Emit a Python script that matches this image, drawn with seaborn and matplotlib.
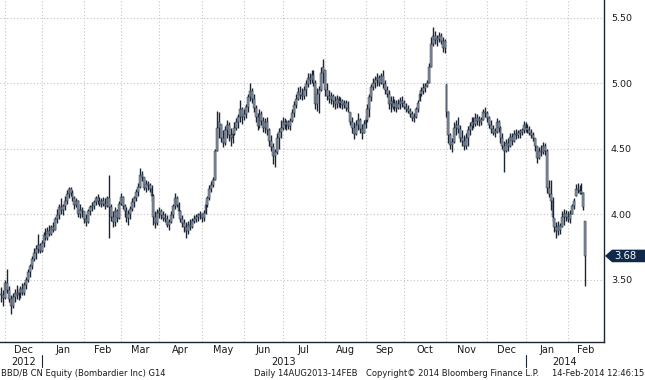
import pandas as pd
import numpy as np
import matplotlib
matplotlib.use("Agg")
import matplotlib.pyplot as plt
import matplotlib.transforms as mtransforms
from matplotlib.lines import Line2D
from matplotlib.patches import Polygon
import seaborn as sns

sns.set_style("white")
plt.rcParams['font.family'] = ['DejaVu Sans']

# TSX trading days, Nov 29 2012 - Feb 14 2014
holidays = ['2012-12-25', '2012-12-26', '2013-01-01', '2013-02-18', '2013-03-29',
            '2013-05-20', '2013-07-01', '2013-08-05', '2013-09-02', '2013-10-14',
            '2013-12-25', '2013-12-26', '2014-01-01']
dates = pd.bdate_range('2012-11-29', '2014-02-14', freq='C', holidays=holidays)

lows = [
    3.33, 3.30,
    3.35, 3.40, 3.33, 3.24, 3.28, 3.33, 3.35, 3.34, 3.36, 3.38, 3.38, 3.43, 3.48, 3.52, 3.58, 3.64, 3.66, 3.70, 3.70,
    3.71, 3.75, 3.80, 3.80, 3.83, 3.84, 3.86, 3.88, 3.93, 3.96, 4.00, 3.99, 4.03, 4.08, 4.12, 4.14, 4.10, 4.04, 4.05, 3.98, 3.97, 3.98,
    3.93, 3.91, 3.93, 3.99, 4.02, 4.04, 4.07, 4.08, 4.06, 4.05, 4.06, 4.04, 4.05, 3.82, 3.95, 3.90, 3.91, 3.94, 3.96,
    4.07, 4.04, 3.98, 3.94, 3.92, 3.96, 4.02, 4.05, 4.10, 4.14, 4.20, 4.25, 4.18, 4.17, 4.18, 4.17, 4.10, 3.92, 3.89, 3.92,
    3.97, 3.96, 3.95, 3.94, 3.90, 3.88, 3.93, 3.97, 4.04, 4.05, 3.99, 3.94, 3.90, 3.86, 3.82, 3.85, 3.88, 3.89, 3.93, 3.94, 3.95, 3.96,
    3.94, 3.95, 4.00, 4.05, 4.11, 4.17, 4.21, 4.26, 4.48, 4.58, 4.55, 4.51, 4.53, 4.58, 4.56, 4.52, 4.54, 4.60, 4.64, 4.66, 4.70, 4.69,
    4.72, 4.73, 4.78, 4.86, 4.85, 4.78, 4.70, 4.64, 4.66, 4.68, 4.63, 4.62, 4.60, 4.52, 4.48, 4.38, 4.36, 4.46, 4.50, 4.58,
    4.64, 4.65, 4.64, 4.65, 4.64, 4.70, 4.74, 4.81, 4.87, 4.88, 4.87, 4.88, 4.90, 4.97, 4.99, 5.00, 4.98, 4.80, 4.79, 4.77, 4.94, 5.00,
    4.90, 4.87, 4.85, 4.84, 4.82, 4.80, 4.81, 4.82, 4.81, 4.80, 4.81, 4.79, 4.78, 4.68, 4.62, 4.57, 4.60, 4.64, 4.62, 4.57, 4.62,
    4.66, 4.70, 4.74, 4.86, 4.95, 4.96, 4.98, 4.98, 4.99, 4.96, 4.92, 4.89, 4.80, 4.78, 4.80, 4.79, 4.78, 4.80, 4.80, 4.82,
    4.80, 4.78, 4.77, 4.74, 4.71, 4.70, 4.73, 4.78, 4.86, 4.90, 4.92, 4.93, 4.97, 5.00, 5.12, 5.28, 5.30, 5.28, 5.31, 5.30, 5.24, 5.23,
    4.74, 4.54, 4.50, 4.47, 4.54, 4.60, 4.62, 4.55, 4.52, 4.49, 4.50, 4.52, 4.60, 4.64, 4.66, 4.67, 4.68, 4.67, 4.68, 4.72, 4.74,
    4.70, 4.66, 4.62, 4.60, 4.59, 4.62, 4.63, 4.54, 4.50, 4.32, 4.47, 4.48, 4.51, 4.53, 4.55, 4.57, 4.58, 4.58, 4.60, 4.62,
    4.63, 4.62, 4.60, 4.58, 4.56, 4.48, 4.39, 4.42, 4.44, 4.46, 4.45, 4.16, 4.13, 4.03, 3.95, 3.86, 3.82, 3.84, 3.85, 3.90, 3.92, 3.95,
    3.94, 3.93, 4.00, 4.04, 4.14, 4.16, 4.15, 4.15, 4.03, 3.45,
]
highs = [
    3.44, 3.42,
    3.50, 3.58, 3.45, 3.38, 3.40, 3.43, 3.46, 3.42, 3.45, 3.47, 3.48, 3.52, 3.58, 3.62, 3.68, 3.74, 3.76, 3.85, 3.78,
    3.80, 3.86, 3.89, 3.90, 3.92, 3.92, 3.94, 3.98, 4.04, 4.08, 4.12, 4.08, 4.14, 4.18, 4.21, 4.21, 4.18, 4.14, 4.12, 4.11, 4.08, 4.05,
    4.02, 4.00, 4.04, 4.07, 4.09, 4.11, 4.14, 4.15, 4.13, 4.12, 4.13, 4.12, 4.14, 4.30, 4.08, 4.02, 4.05, 4.04, 4.10,
    4.16, 4.14, 4.08, 4.05, 4.03, 4.06, 4.12, 4.14, 4.19, 4.24, 4.35, 4.33, 4.28, 4.26, 4.25, 4.24, 4.22, 4.15, 4.02, 4.04,
    4.05, 4.04, 4.02, 4.01, 3.99, 3.96, 4.02, 4.08, 4.16, 4.14, 4.09, 4.03, 3.99, 3.96, 3.94, 3.95, 3.96, 3.97, 3.99, 4.00, 4.01, 4.02,
    4.01, 4.03, 4.10, 4.14, 4.22, 4.25, 4.28, 4.50, 4.79, 4.78, 4.69, 4.64, 4.67, 4.72, 4.70, 4.66, 4.64, 4.70, 4.73, 4.76, 4.87, 4.82,
    4.80, 4.84, 4.92, 5.00, 4.96, 4.92, 4.83, 4.77, 4.80, 4.79, 4.74, 4.73, 4.74, 4.66, 4.60, 4.54, 4.50, 4.62, 4.66, 4.72,
    4.74, 4.73, 4.72, 4.72, 4.73, 4.80, 4.86, 4.92, 4.97, 4.98, 4.96, 4.98, 5.02, 5.08, 5.08, 5.10, 5.10, 5.02, 4.96, 4.98, 5.12, 5.18,
    5.10, 5.00, 4.95, 4.93, 4.92, 4.90, 4.91, 4.90, 4.89, 4.88, 4.87, 4.87, 4.86, 4.78, 4.74, 4.70, 4.72, 4.77, 4.73, 4.69, 4.72,
    4.75, 4.84, 4.92, 4.99, 5.04, 5.05, 5.08, 5.06, 5.08, 5.10, 5.02, 4.98, 4.95, 4.90, 4.90, 4.88, 4.87, 4.88, 4.89, 4.90,
    4.87, 4.85, 4.83, 4.81, 4.79, 4.77, 4.82, 4.87, 4.95, 4.97, 5.00, 5.00, 5.02, 5.15, 5.35, 5.43, 5.40, 5.37, 5.39, 5.38, 5.35, 5.34,
    4.99, 4.79, 4.62, 4.58, 4.70, 4.72, 4.74, 4.68, 4.64, 4.60, 4.62, 4.67, 4.70, 4.74, 4.74, 4.77, 4.76, 4.75, 4.74, 4.80, 4.82,
    4.79, 4.75, 4.72, 4.68, 4.66, 4.73, 4.72, 4.67, 4.62, 4.56, 4.57, 4.58, 4.62, 4.62, 4.64, 4.65, 4.64, 4.65, 4.66, 4.71,
    4.70, 4.69, 4.67, 4.65, 4.63, 4.58, 4.52, 4.51, 4.53, 4.55, 4.54, 4.50, 4.26, 4.26, 4.13, 3.97, 3.94, 3.95, 3.93, 4.02, 4.04, 4.03,
    4.02, 4.03, 4.08, 4.12, 4.23, 4.24, 4.22, 4.24, 4.17, 3.95,
]
closes = [
    3.38, 3.36,
    3.47, 3.42, 3.35, 3.30, 3.37, 3.40, 3.38, 3.40, 3.43, 3.40, 3.46, 3.50, 3.56, 3.60, 3.66, 3.70, 3.73, 3.76, 3.72,
    3.78, 3.84, 3.82, 3.87, 3.85, 3.90, 3.88, 3.96, 3.99, 4.05, 4.03, 4.06, 4.10, 4.15, 4.19, 4.16, 4.12, 4.07, 4.10, 4.00, 4.03, 4.02,
    3.96, 3.94, 4.02, 4.05, 4.06, 4.09, 4.12, 4.10, 4.08, 4.10, 4.08, 4.06, 4.12, 4.05, 3.98, 3.94, 4.02, 3.97, 4.08,
    4.13, 4.06, 4.02, 3.97, 4.00, 4.04, 4.09, 4.12, 4.17, 4.21, 4.30, 4.28, 4.20, 4.23, 4.22, 4.19, 4.14, 3.98, 3.93, 4.01,
    4.02, 3.99, 3.97, 3.96, 3.92, 3.94, 3.99, 4.06, 4.12, 4.07, 4.02, 3.96, 3.93, 3.90, 3.87, 3.92, 3.90, 3.95, 3.96, 3.98, 3.99, 4.00,
    3.97, 4.01, 4.07, 4.12, 4.19, 4.22, 4.26, 4.48, 4.66, 4.70, 4.58, 4.54, 4.64, 4.68, 4.60, 4.58, 4.61, 4.66, 4.70, 4.74, 4.80, 4.74,
    4.76, 4.82, 4.89, 4.94, 4.88, 4.81, 4.74, 4.67, 4.76, 4.71, 4.66, 4.70, 4.64, 4.56, 4.51, 4.44, 4.47, 4.58, 4.63, 4.66,
    4.70, 4.68, 4.70, 4.67, 4.71, 4.77, 4.83, 4.88, 4.93, 4.91, 4.90, 4.95, 4.99, 5.04, 5.02, 5.06, 5.00, 4.84, 4.92, 4.95, 5.08, 5.12,
    4.95, 4.90, 4.88, 4.90, 4.86, 4.84, 4.88, 4.85, 4.86, 4.83, 4.85, 4.81, 4.80, 4.70, 4.66, 4.61, 4.68, 4.72, 4.65, 4.62, 4.69,
    4.72, 4.80, 4.89, 4.97, 5.00, 5.02, 5.04, 5.00, 5.05, 4.99, 4.95, 4.92, 4.84, 4.86, 4.82, 4.85, 4.81, 4.84, 4.86, 4.85,
    4.82, 4.80, 4.79, 4.76, 4.73, 4.74, 4.80, 4.85, 4.92, 4.94, 4.96, 4.98, 5.00, 5.12, 5.30, 5.36, 5.33, 5.34, 5.36, 5.32, 5.27, 5.32,
    4.78, 4.60, 4.53, 4.55, 4.66, 4.68, 4.65, 4.58, 4.56, 4.52, 4.58, 4.64, 4.67, 4.70, 4.69, 4.73, 4.71, 4.72, 4.70, 4.78, 4.77,
    4.73, 4.68, 4.65, 4.62, 4.63, 4.70, 4.66, 4.58, 4.52, 4.48, 4.54, 4.52, 4.59, 4.56, 4.61, 4.60, 4.62, 4.63, 4.64, 4.68,
    4.66, 4.64, 4.62, 4.60, 4.58, 4.52, 4.43, 4.48, 4.47, 4.52, 4.48, 4.20, 4.15, 4.10, 3.98, 3.90, 3.87, 3.91, 3.88, 3.98, 4.00, 3.98,
    3.96, 4.00, 4.06, 4.10, 4.19, 4.18, 4.17, 4.16, 4.05, 3.68,
]

footer_left = "BBD/B CN Equity (Bombardier Inc) G14"
footer_mid = "Daily 14AUG2013-14FEB"
footer_copy = "Copyright\u00a9 2014 Bloomberg Finance L.P."
footer_time = "14-Feb-2014 12:46:15"
last_label = "3.68"

df = pd.DataFrame({'date': dates, 'low': lows, 'high': highs, 'close': closes})
df['open'] = df['close'].shift(1).fillna(df['close'])
body_lo = np.clip(np.minimum(df['open'], df['close']), df['low'], df['high'])
body_hi = np.clip(np.maximum(df['open'], df['close']), df['low'], df['high'])
body_h = np.maximum(body_hi - body_lo, 0.012)

dark = '#1b2533'
grey = '#8996a8'
grid_c = '#c4c4c4'
txt = '#1a1a1a'

fig = plt.figure(figsize=(6.45, 3.80), dpi=100)
ax = fig.add_axes([0, 0.1, 604 / 645, 0.9])

ax.vlines(df.index, df['low'], df['high'], color=dark, linewidth=1.0, zorder=3)
ax.bar(df.index, body_h, bottom=body_lo, width=1.0, color=grey,
       edgecolor=dark, linewidth=0.3, zorder=4)

ax.set_xlim(-0.6, 312.7)
ax.set_ylim(3.023, 5.634)

# month boundaries and labels
month_key = df['date'].dt.to_period('M')
firsts = df.groupby(month_key).apply(lambda g: g.index.min())
firsts = firsts[firsts > 0]
bounds = list(firsts.values)
edges = bounds + [ax.get_xlim()[1]]
centers = [(edges[k] + edges[k + 1]) / 2 for k in range(len(bounds))]
names = [p.strftime('%b') for p in firsts.index]

ax.set_xticks(bounds)
ax.set_xticklabels([])
ax.set_xticks(centers, minor=True)
ax.set_xticklabels(names, minor=True)
ax.tick_params(axis='x', which='major', length=3, width=0.8, color=dark, direction='out')
ax.tick_params(axis='x', which='minor', length=0, pad=2, labelsize=7, labelcolor=txt)

ax.yaxis.tick_right()
ax.set_yticks([3.5, 4.0, 4.5, 5.0, 5.5])
ax.set_yticklabels([f'{v:.2f}' for v in [3.5, 4.0, 4.5, 5.0, 5.5]])
ax.set_yticks([3.25, 3.75, 4.25, 4.75, 5.25], minor=True)
ax.tick_params(axis='y', which='major', length=4, width=0.8, color=dark, pad=1,
               labelsize=6.8, labelcolor=txt)
ax.tick_params(axis='y', which='minor', length=2, width=0.8, color=dark)

for v in [3.5, 4.0, 4.5, 5.0, 5.5]:
    ax.axhline(v, color=grid_c, linewidth=0.8, linestyle=(0, (1, 2)), zorder=1)
for b in bounds:
    ax.axvline(b, color=grid_c, linewidth=0.8, linestyle=(0, (1, 2)), zorder=1)

sns.despine(ax=ax, left=True, top=True, right=False, bottom=False)
ax.spines['right'].set_color(dark)
ax.spines['bottom'].set_color(dark)
ax.spines['right'].set_linewidth(1.0)
ax.spines['bottom'].set_linewidth(1.0)

# year row
xfig = mtransforms.blended_transform_factory(ax.transData, fig.transFigure)
years = df['date'].dt.year
year_first = [int(df.index[years == y].min()) for y in sorted(years.unique())]
year_edges = [bounds[0]] + year_first[1:] + [ax.get_xlim()[1]]
for k, y in enumerate(sorted(years.unique())):
    ax.text((year_edges[k] + year_edges[k + 1]) / 2, 1 - 362 / 380, str(y), transform=xfig,
            ha='center', va='center', fontsize=7, color=txt)
for x0 in year_first[1:]:
    fig.add_artist(Line2D([x0, x0], [1 - 367 / 380, 1 - 355 / 380], transform=xfig,
                          color=dark, linewidth=0.8))

# last price tag on the right axis
last = df['close'].iloc[-1]
tag_tf = mtransforms.blended_transform_factory(fig.transFigure, ax.transData)
h = 0.048
tag = Polygon([(605 / 645, last), (612 / 645, last + h), (1.0, last + h),
               (1.0, last - h), (612 / 645, last - h)], closed=True,
              transform=tag_tf, facecolor='#10294a', edgecolor='none', clip_on=False)
fig.add_artist(tag)
fig.text(614 / 645, last, last_label, transform=tag_tf, ha='left', va='center',
         fontsize=7.2, color='white')

# footer
fy = 1 - 373 / 380
fs = 6.0
fig.text(1 / 645, fy, footer_left, ha='left', va='center', fontsize=fs, color=txt)
fig.text(254 / 645, fy, footer_mid, ha='left', va='center', fontsize=fs, color=txt)
fig.text(366 / 645, fy, footer_copy, ha='left', va='center', fontsize=fs, color=txt)
fig.text(644 / 645, fy, footer_time, ha='right', va='center', fontsize=fs, color=txt)

fig.savefig('out.png', dpi=100, facecolor='white')
